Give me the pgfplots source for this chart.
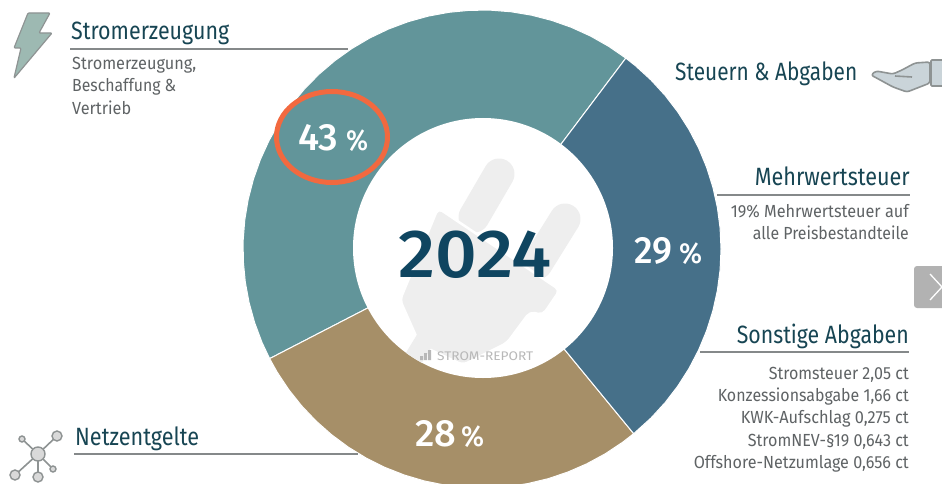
\documentclass[border=0pt]{standalone}
\usepackage{graphicx}
\usepackage{fontspec}
\setmainfont{Fira Sans}
\newfontfamily\med{Fira Sans Medium}
\usepackage{pgfplots}
\pgfplotsset{compat=1.18}
\definecolor{cteal}{HTML}{62959A}
\definecolor{cblue}{HTML}{467089}
\definecolor{ctan}{HTML}{A68F68}
\definecolor{corange}{HTML}{F2693F}
\definecolor{chead}{HTML}{174553}
\definecolor{cyear}{HTML}{0F4560}
\definecolor{cbody}{HTML}{5F6365}
\definecolor{cline}{HTML}{85898A}
\definecolor{cplug}{HTML}{EEEEEE}
\definecolor{cicon}{HTML}{8E9393}
\definecolor{cbolt}{HTML}{9DB9B2}
\definecolor{chand}{HTML}{CAD4D9}
% #1 anchor, #2 x, #3 baseline y, #4 width, #5 size, #6 colour, #7 text
\newcommand{\lab}[7]{\node[anchor=base #1,inner sep=0pt,text=#6] at (#2,#3)
  {\resizebox{#4pt}{\height}{\fontsize{#5pt}{#5pt}\selectfont #7}};}
\begin{document}
\begin{tikzpicture}[x=1pt,y=1pt]
\clip (0,0) rectangle (942,483);
\fill[white] (0,0) rectangle (942,483);
\begin{axis}[at={(0,0)},anchor=south west,scale only axis,width=942pt,height=483pt,
  xmin=-482,xmax=460,ymin=-234,ymax=249,hide axis,clip=true]
\addplot[data cs=polar,fill=cteal,draw=white,line width=1pt] coordinates {(0,0)(53,239)(58,239)(63,239)(68,239)(73,239)(78,239)(83,239)(88,239)(93,239)(98,239)(103,239)(108,239)(113,239)(118,239)(123,239)(128,239)(133,239)(138,239)(143,239)(148,239)(153,239)(158,239)(163,239)(168,239)(173,239)(178,239)(183,239)(188,239)(193,239)(198,239)(203,239)(207.3,239)} --cycle;
\addplot[data cs=polar,fill=ctan,draw=white,line width=1pt] coordinates {(0,0)(207.3,239)(211,239)(216,239)(221,239)(226,239)(231,239)(236,239)(241,239)(246,239)(251,239)(256,239)(261,239)(266,239)(271,239)(276,239)(281,239)(286,239)(291,239)(296,239)(301,239)(306,239)(309.4,239)} --cycle;
\addplot[data cs=polar,fill=cblue,draw=white,line width=1pt] coordinates {(0,0)(309.4,239)(315,239)(320,239)(325,239)(330,239)(335,239)(340,239)(345,239)(350,239)(355,239)(360,239)(365,239)(370,239)(375,239)(380,239)(385,239)(390,239)(395,239)(400,239)(405,239)(410,239)(413,239)} --cycle;
\end{axis}
\begin{scope}[yshift=483pt,y=-1pt]
% centre disc and plug watermark
\fill[white] (483,248) circle (130);
\begin{scope}
\clip (483,248) circle (130);
\draw[cplug,line width=31pt,line cap=round] (499,174) -- (474,217);
\draw[cplug,line width=31pt,line cap=round] (565,219) -- (537,264);
\fill[cplug,draw=white,line width=2.5pt,rounded corners=5pt] (438,208) -- (560,290) -- (543,315) -- (530,312) -- (507,343) -- (463,365) -- (420,345) -- (400,300) -- cycle;
\fill[cplug] (418,333) -- (434,343) -- (420,366) -- (404,356) -- cycle;
\end{scope}
% leader rules
\draw[cline,line width=1.1pt] (70,49) -- (348,49);
\draw[cline,line width=1.1pt] (74,454) -- (358,454);
\draw[cline,line width=1.1pt] (717,195) -- (910,195);
\draw[cline,line width=1.1pt] (700,352) -- (909,352);
% headings
\lab{west}{71}{40}{158}{25}{chead}{Stromerzeugung}
\lab{west}{675}{81}{182}{25}{chead}{Steuern \& Abgaben}
\lab{east}{910}{185}{155}{25}{chead}{Mehrwertsteuer}
\lab{east}{909}{343}{172}{25}{chead}{Sonstige Abgaben}
\lab{west}{75}{445}{124}{25}{chead}{Netzentgelte}
% body text
\lab{west}{72}{70}{124}{17.5}{cbody}{Stromerzeugung,}
\lab{west}{72}{92}{104}{17.5}{cbody}{Beschaffung \&}
\lab{west}{72}{114}{59}{17.5}{cbody}{Vertrieb}
\lab{east}{909}{217}{178}{17.5}{cbody}{19\% Mehrwertsteuer auf}
\lab{east}{909}{239}{156}{17.5}{cbody}{alle Preisbestandteile}
\lab{east}{909}{379}{140}{17.5}{cbody}{Stromsteuer 2,05 ct}
\lab{east}{909}{401}{191}{17.5}{cbody}{Konzessionsabgabe 1,66 ct}
\lab{east}{909}{423}{168}{17.5}{cbody}{KWK-Aufschlag 0,275 ct}
\lab{east}{909}{446}{161}{17.5}{cbody}{StromNEV-§19 0,643 ct}
\lab{east}{909}{468}{215}{17.5}{cbody}{Offshore-Netzumlage 0,656 ct}
% values
\lab{west}{298}{150}{40}{38}{white}{\med 43}
\lab{west}{346}{150}{22}{29}{white}{\med\%}
\lab{west}{634}{263}{38}{38}{white}{\med 29}
\lab{west}{679}{263}{23}{29}{white}{\med\%}
\lab{west}{415}{446}{41}{38}{white}{\med 28}
\lab{west}{461}{446}{23}{29}{white}{\med\%}
\lab{west}{398}{277}{153}{68}{cyear}{\med 2024}
\lab{west}{437}{360}{96}{12.5}{black!28}{STROM-REPORT}
\fill[black!28] (420,356) rectangle (423,360) (424,353) rectangle (427,360) (428,350) rectangle (431,360);
% highlight
\draw[corange,line width=5pt] (332,137) ellipse (55.5 and 45.5);
% lightning icon
\draw[cicon,fill=cbolt,line width=1.2pt,line join=round,rounded corners=1pt]
  (28,13) -- (50,13) -- (39,33) -- (52,33) -- (15,77) -- (14,78) -- (21,48) -- (14,48) -- cycle;
% hand icon
\draw[cicon,fill=chand,line width=1.6pt,line join=round,rounded corners=2.5pt]
  (930,62) -- (915,63) -- (902,70) -- (893,74) -- (876,71) -- (871,75) -- (893,87) -- (907,92) -- (930,83) -- cycle;
\draw[cicon,line width=1.6pt] (895,76) -- (912,77);
\draw[cicon,fill=chand,line width=1.6pt,rounded corners=1pt] (931,60) rectangle (950,86);
% network icon
\draw[cicon,line width=1.6pt] (38,454) -- (57,436) (38,454) -- (22,439) (38,454) -- (53,469) (38,454) -- (15,475) (38,454) -- (38,477);
\foreach \x/\y/\r in {38/454/7,57/436/5,22/439/3,53/469/3,15/475/5,38/477/5}
  \draw[cicon,fill=black!15,line width=1.4pt] (\x,\y) circle (\r);
% next button
\fill[black!30,rounded corners=3pt] (914,266) rectangle (960,308);
\draw[white,line width=1.3pt] (930,274) -- (942,287) -- (930,300);
\end{scope}
\end{tikzpicture}
\end{document}
